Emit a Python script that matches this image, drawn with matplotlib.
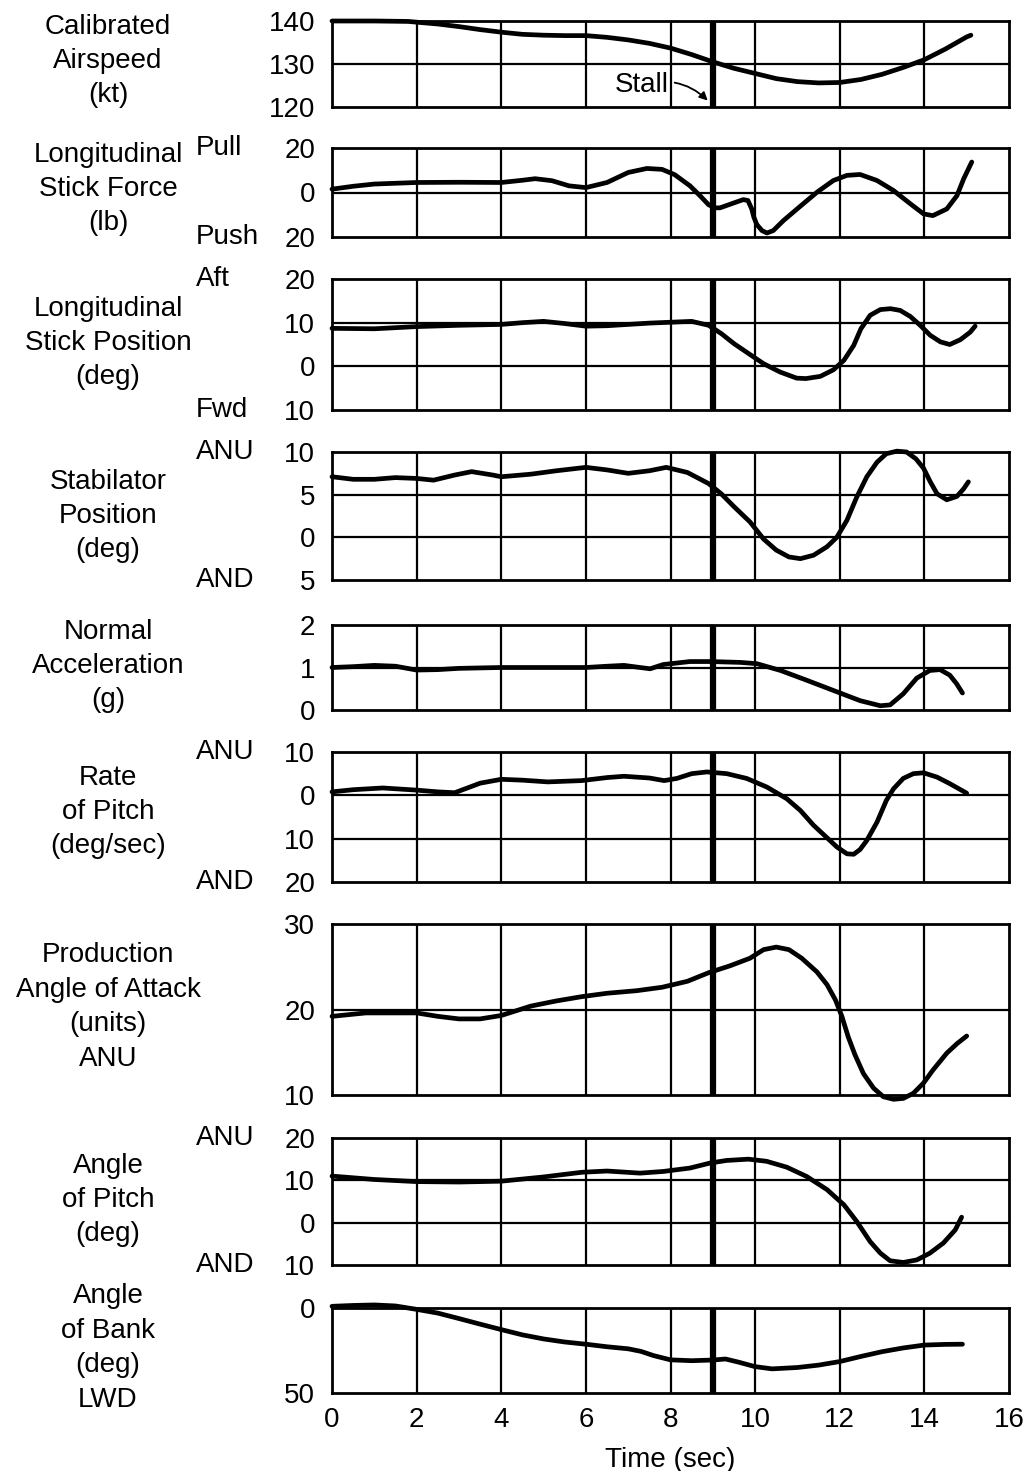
import matplotlib
matplotlib.use("Agg")
import matplotlib.pyplot as plt

plt.rcParams['font.family'] = ['Liberation Sans', 'DejaVu Sans']

# ---------------- data ----------------
t_airspeed = [0, 1, 1.8, 2.5, 3, 3.5, 4, 4.5, 5, 5.5, 6, 6.5, 7, 7.5, 8, 8.5, 9, 9.5, 10, 10.5,
              11, 11.5, 12, 12.5, 13, 13.5, 14, 14.5, 15, 15.1]
airspeed = [140, 140, 139.9, 139.3, 138.7, 138, 137.4, 136.9, 136.7, 136.6, 136.6, 136.2, 135.6,
            134.8, 133.7, 132.2, 130.5, 129, 127.8, 126.6, 125.9, 125.6, 125.7, 126.4, 127.6,
            129.2, 131, 133.5, 136.3, 136.7]

t_force = [0, 0.5, 1, 2, 3, 4, 4.5, 4.8, 5.2, 5.6, 6, 6.5, 7, 7.44, 7.8, 8.1, 8.46, 8.7, 8.9,
           9.05, 9.17, 9.48, 9.72, 9.83, 9.92, 9.97, 10.04, 10.16, 10.28, 10.43, 10.67, 11.06,
           11.46, 11.85, 12.17, 12.48, 12.88, 13.27, 13.67, 13.98, 14.2, 14.53, 14.77, 14.93, 15.12]
stick_force = [1.5, 2.8, 3.8, 4.5, 4.6, 4.5, 5.5, 6.2, 5.3, 3.0, 2.2, 4.5, 9.0, 10.8, 10.4, 8.0,
               3.0, -1.5, -5.5, -6.9, -6.9, -4.8, -3.2, -3.6, -7.4, -11.1, -14.4, -17.1, -18.2,
               -17.1, -12.6, -6.3, 0.1, 5.4, 7.7, 8.1, 5.4, 0.9, -5.1, -9.6, -10.4, -7.4, -1.4,
               6.2, 13.7]

t_position = [0, 1, 2, 3, 4, 4.5, 5, 5.5, 6, 6.5, 7, 7.5, 8, 8.5, 8.9, 9.2, 9.5, 9.88, 10.2,
              10.59, 10.98, 11.2, 11.54, 11.85, 12.1, 12.33, 12.5, 12.72, 12.96, 13.2, 13.43,
              13.67, 13.9, 14.14, 14.38, 14.6, 14.85, 15.08, 15.2]
stick_position = [8.7, 8.6, 9.1, 9.4, 9.6, 10.0, 10.3, 9.8, 9.2, 9.3, 9.6, 9.9, 10.1, 10.3, 9.4,
                  7.5, 5.2, 2.7, 0.6, -1.3, -2.7, -2.8, -2.3, -0.8, 1.4, 4.8, 8.6, 11.7, 13.0,
                  13.2, 12.8, 11.4, 9.4, 7.1, 5.6, 5.0, 6.1, 7.8, 9.2]

t_stab = [0, 0.5, 1, 1.5, 2, 2.4, 2.9, 3.3, 3.8, 4, 4.7, 5.3, 6, 6.5, 7, 7.5, 7.9, 8.4, 8.9, 9.2,
          9.5, 9.88, 10.2, 10.5, 10.8, 11.07, 11.38, 11.7, 11.93, 12.17, 12.4, 12.64, 12.88, 13.1,
          13.35, 13.58, 13.8, 13.98, 14.14, 14.3, 14.53, 14.77, 14.93, 15.04]
stabilator = [7.1, 6.8, 6.8, 7.0, 6.9, 6.7, 7.3, 7.7, 7.3, 7.1, 7.4, 7.8, 8.2, 7.9, 7.5, 7.8, 8.2,
              7.6, 6.3, 5.1, 3.6, 1.8, -0.2, -1.5, -2.3, -2.5, -2.1, -1.1, 0.0, 2.0, 4.7, 7.1, 8.8,
              9.8, 10.1, 10.0, 9.2, 8.1, 6.5, 5.1, 4.4, 4.8, 5.7, 6.5]

t_accel = [0, 0.5, 1, 1.5, 2, 2.5, 3, 4, 5, 6, 6.5, 6.9, 7.28, 7.52, 7.83, 8.46, 8.94, 9.65, 10.04,
           10.6, 11.22, 11.85, 12.48, 12.96, 13.19, 13.5, 13.82, 14.13, 14.37, 14.6, 14.76, 14.9]
normal_accel = [1.0, 1.02, 1.05, 1.03, 0.94, 0.95, 0.98, 1.0, 1.0, 1.0, 1.03, 1.05, 1.0, 0.97,
                1.07, 1.14, 1.14, 1.12, 1.09, 0.93, 0.7, 0.46, 0.22, 0.1, 0.12, 0.38, 0.75, 0.93,
                0.95, 0.82, 0.62, 0.4]

t_rate = [0, 0.5, 1.2, 2, 2.5, 2.9, 3.5, 4, 4.5, 5.1, 5.9, 6.5, 6.9, 7.5, 7.85, 8.15, 8.5, 8.86,
          9.33, 9.8, 10.28, 10.75, 11.07, 11.38, 11.7, 11.93, 12.17, 12.33, 12.48, 12.64, 12.88,
          13.1, 13.27, 13.5, 13.74, 13.98, 14.3, 14.6, 15.0]
pitch_rate = [0.8, 1.3, 1.7, 1.2, 0.8, 0.6, 2.8, 3.7, 3.5, 3.1, 3.4, 4.1, 4.4, 4.0, 3.4, 3.9, 5.0,
              5.4, 5.0, 3.9, 1.9, -0.8, -3.5, -6.9, -9.8, -11.9, -13.5, -13.6, -12.5, -10.4,
              -6.2, -1.2, 1.5, 3.9, 5.0, 5.2, 4.2, 2.7, 0.5]

t_aoa = [0, 0.8, 2, 2.5, 3, 3.5, 4, 4.7, 5.3, 5.9, 6.5, 7.2, 7.8, 8.4, 8.9, 9.4, 9.88, 10.2, 10.5,
         10.8, 11.1, 11.46, 11.7, 11.9, 12.05, 12.2, 12.36, 12.56, 12.8, 13.03, 13.27, 13.5,
         13.74, 13.98, 14.2, 14.53, 14.77, 15.0]
angle_of_attack = [19.2, 19.6, 19.6, 19.2, 18.9, 18.9, 19.3, 20.4, 21.0, 21.5, 21.9, 22.2, 22.6,
                   23.3, 24.3, 25.1, 26.0, 27.0, 27.3, 27.0, 26.0, 24.4, 22.9, 21.1, 19.2, 16.8,
                   14.7, 12.5, 10.8, 9.8, 9.5, 9.6, 10.2, 11.4, 12.9, 14.9, 16.0, 16.9]

t_pitch = [0, 0.5, 1, 2, 3, 4, 5, 5.9, 6.5, 7.28, 7.83, 8.46, 8.94, 9.33, 9.84, 10.27, 10.75,
           11.22, 11.7, 12.1, 12.4, 12.72, 12.96, 13.19, 13.5, 13.82, 14.13, 14.45, 14.73, 14.88]
pitch_angle = [11, 10.6, 10.2, 9.7, 9.6, 9.8, 10.8, 11.9, 12.2, 11.7, 12.1, 12.9, 14.1, 14.7,
               15.0, 14.5, 13.1, 10.9, 7.8, 4.2, 0.3, -4.5, -7.2, -9.0, -9.4, -8.8, -7.2, -4.8,
               -1.7, 1.3]

t_bank = [0, 0.5, 1, 1.5, 2, 2.5, 3, 3.5, 4, 4.5, 5, 5.5, 6, 6.5, 7, 7.3, 7.6, 8, 8.5, 9, 9.3, 9.6,
          10, 10.4, 11, 11.5, 12, 12.5, 13, 13.5, 14, 14.5, 14.9]
bank_angle = [-1, -1.5, -1.8, -1.2, 0.8, 3, 6.2, 9.5, 12.7, 15.8, 18.2, 20, 21.3, 22.8, 24, 25.5,
              28, 30.5, 31, 30.6, 30, 31.8, 34.5, 35.8, 35, 33.6, 31.5, 28.5, 25.7, 23.5, 21.8,
              21.4, 21.3]

time_grid = [2, 4, 6, 8, 10, 12, 14]
stall_time = 9
x_ticks = [0, 2, 4, 6, 8, 10, 12, 14, 16]

panels = [
    dict(t=t_airspeed, y=airspeed, lim=(120, 140), ticks=[140, 130, 120], labels=['140', '130', '120'],
         grid=[130], title="Calibrated\nAirspeed\n(kt)", top=None, bot=None),
    dict(t=t_force, y=stick_force, lim=(-20, 20), ticks=[20, 0, -20], labels=['20', '0', '20'],
         grid=[0], title="Longitudinal\nStick Force\n(lb)", top="Pull", bot="Push"),
    dict(t=t_position, y=stick_position, lim=(-10, 20), ticks=[20, 10, 0, -10], labels=['20', '10', '0', '10'],
         grid=[10, 0], title="Longitudinal\nStick Position\n(deg)", top="Aft", bot="Fwd"),
    dict(t=t_stab, y=stabilator, lim=(-5, 10), ticks=[10, 5, 0, -5], labels=['10', '5', '0', '5'],
         grid=[5, 0], title="Stabilator\nPosition\n(deg)", top="ANU", bot="AND"),
    dict(t=t_accel, y=normal_accel, lim=(0, 2), ticks=[2, 1, 0], labels=['2', '1', '0'],
         grid=[1], title="Normal\nAcceleration\n(g)", top=None, bot=None),
    dict(t=t_rate, y=pitch_rate, lim=(-20, 10), ticks=[10, 0, -10, -20], labels=['10', '0', '10', '20'],
         grid=[0, -10], title="Rate\nof Pitch\n(deg/sec)", top="ANU", bot="AND"),
    dict(t=t_aoa, y=angle_of_attack, lim=(10, 30), ticks=[30, 20, 10], labels=['30', '20', '10'],
         grid=[20], title="Production\nAngle of Attack\n(units)\nANU", top=None, bot=None),
    dict(t=t_pitch, y=pitch_angle, lim=(-10, 20), ticks=[20, 10, 0, -10], labels=['20', '10', '0', '10'],
         grid=[10, 0], title="Angle\nof Pitch\n(deg)", top="ANU", bot="AND"),
    dict(t=t_bank, y=bank_angle, lim=(50, 0), ticks=[0, 50], labels=['0', '50'],
         grid=[], title="Angle\nof Bank\n(deg)\nLWD", top=None, bot=None),
]

# ---------------- layout (pixels) ----------------
W, H = 1023, 1471
rows_px = [(21, 107), (148, 237), (279, 410), (452, 580), (625, 710),
           (752, 882), (924, 1095), (1138, 1265), (1308, 1393)]
title_y_px = [61, 189, 343, 516, 666, 812, 1007, 1200, 1348]
left_px, right_px = 332, 1009
fs = 20

fig = plt.figure(figsize=(W / 100, H / 100), dpi=100)
fig.patch.set_facecolor('white')

axes = []
for i, (p, (tp, bp)) in enumerate(zip(panels, rows_px)):
    ax = fig.add_axes([left_px / W, 1 - bp / H, (right_px - left_px) / W, (bp - tp) / H])
    ax.set_xlim(0, 16)
    ax.set_ylim(*p['lim'])
    for gx in time_grid:
        ax.axvline(gx, color='black', lw=1.6, zorder=1)
    ax.axvline(stall_time, color='black', lw=4.5, zorder=1)
    for gy in p['grid']:
        ax.axhline(gy, color='black', lw=1.6, zorder=1)
    ax.plot(p['t'], p['y'], color='black', lw=3.4, solid_capstyle='round',
            solid_joinstyle='round', zorder=3, clip_on=False)
    ax.set_yticks(p['ticks'])
    ax.set_yticklabels(p['labels'])
    ax.tick_params(axis='y', length=0, pad=12, labelsize=fs)
    if i == len(panels) - 1:
        ax.set_xticks(x_ticks)
        ax.set_xticklabels([str(v) for v in x_ticks])
        ax.tick_params(axis='x', length=0, pad=10, labelsize=fs)
        ax.set_xlabel("Time (sec)", fontsize=fs, labelpad=10)
    else:
        ax.set_xticks([])
    for s in ax.spines.values():
        s.set_linewidth(2.0)
    # left descriptive label
    fig.text(108 / W, 1 - title_y_px[i] / H, p['title'], ha='center', va='center',
             fontsize=fs, linespacing=1.42)
    if p['top']:
        fig.text(196 / W, 1 - tp / H, p['top'], ha='left', va='center', fontsize=fs)
    if p['bot']:
        fig.text(196 / W, 1 - bp / H, p['bot'], ha='left', va='center', fontsize=fs)
    axes.append(ax)

# Stall annotation
axes[0].annotate("Stall", xy=(8.88, 121.5), xytext=(7.33, 125.0), fontsize=fs,
                 ha='center', va='center',
                 arrowprops=dict(arrowstyle='-|>', color='black', lw=1.3,
                                 connectionstyle='arc3,rad=-0.3', shrinkA=2, shrinkB=0,
                                 mutation_scale=12))

fig.savefig("out.png", dpi=100, facecolor='white')
